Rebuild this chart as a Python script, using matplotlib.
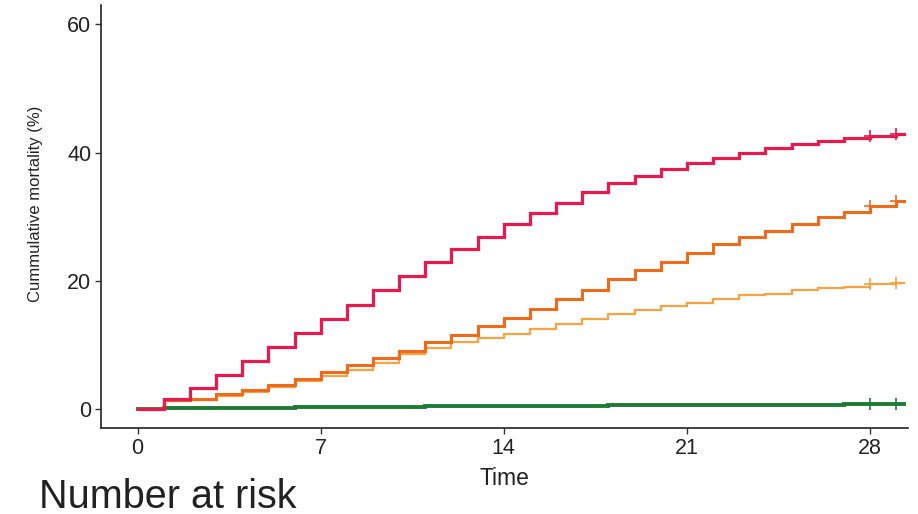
import matplotlib
matplotlib.use("Agg")
import matplotlib.pyplot as plt
import numpy as np

plt.rcParams['font.family'] = ['Liberation Sans', 'DejaVu Sans']

days = list(range(30))
end_time = 29.3
censor_days = [28, 29]

red = [0, 1.5, 3.2, 5.3, 7.5, 9.6, 11.8, 14.0, 16.2, 18.6, 20.8, 23.0, 24.9, 26.9, 28.8,
       30.6, 32.1, 33.8, 35.2, 36.4, 37.4, 38.3, 39.2, 40.0, 40.7, 41.3, 41.8, 42.2, 42.6, 42.9]
dark_orange = [0, 1.4, 1.6, 2.3, 3.0, 3.8, 4.6, 5.7, 6.8, 7.9, 9.1, 10.4, 11.6, 12.9, 14.2,
               15.6, 17.2, 18.6, 20.2, 21.7, 22.9, 24.4, 25.7, 26.8, 27.8, 28.9, 29.9, 30.8, 31.7, 32.4]
light_orange = [0, 1.2, 1.4, 2.0, 2.7, 3.5, 4.3, 5.2, 6.1, 7.2, 8.6, 9.5, 10.4, 11.1, 11.7,
                12.4, 13.3, 14.0, 14.8, 15.4, 16.1, 16.6, 17.2, 17.7, 18.0, 18.5, 18.8, 19.1, 19.5, 19.6]
green = [0, 0.1, 0.1, 0.15, 0.2, 0.2, 0.25, 0.3, 0.3, 0.35, 0.35, 0.4, 0.4, 0.45, 0.45,
         0.5, 0.5, 0.5, 0.55, 0.55, 0.55, 0.6, 0.6, 0.6, 0.65, 0.65, 0.65, 0.7, 0.7, 0.7]

x_ticks = [0, 7, 14, 21, 28]
y_ticks = [0, 20, 40, 60]

series = [
    (green, '#1f7a35', 2.8),
    (light_orange, '#f5a343', 1.6),
    (dark_orange, '#f06a1c', 2.2),
    (red, '#e8194d', 2.3),
]

fig = plt.figure(figsize=(9.18, 5.14), dpi=100)
ax = fig.add_axes([0.110, 0.167, 0.879, 0.823])

for vals, color, lw in series:
    t = days + [end_time]
    v = vals + [vals[-1]]
    ax.step(t, v, where='post', color=color, lw=lw, solid_joinstyle='miter')
    cy = [vals[d] for d in censor_days]
    ax.plot(censor_days, cy, linestyle='none', marker='+', markersize=8,
            markeredgewidth=1.2, color=color)

ax.set_xlim(-1.4, 29.45)
ax.set_ylim(-3, 63)
ax.set_xticks(x_ticks)
ax.set_yticks(y_ticks)
ax.tick_params(axis='both', labelsize=15.5, colors='#333333', length=4, width=1,
               labelcolor='#222222', pad=3)
for s in ['top', 'right']:
    ax.spines[s].set_visible(False)
for s in ['left', 'bottom']:
    ax.spines[s].set_color('#222222')
    ax.spines[s].set_linewidth(1.2)

ax.set_xlabel('Time', fontsize=16.5, color='#222222', labelpad=6)
ax.set_ylabel('Cummulative mortality (%)', fontsize=12, color='#222222')
ax.yaxis.set_label_coords(-0.072, 0.53)

fig.text(0.043, 0.012, 'Number at risk', fontsize=28.5, color='#222222', va='baseline')

fig.savefig('out.png', dpi=100, facecolor='white')
